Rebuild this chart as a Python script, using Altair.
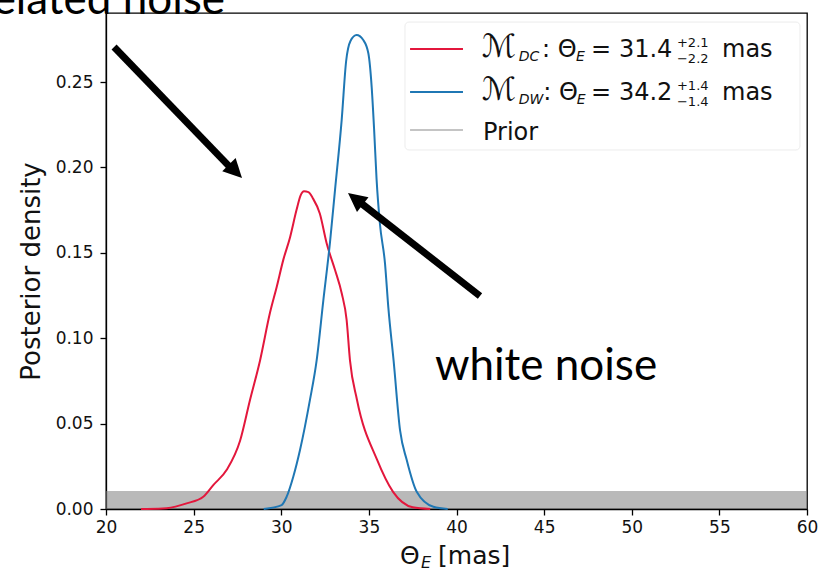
import altair as alt
import pandas as pd

# ---- data ----
dc_x = [22.0, 23.0, 23.46, 24.6, 25.55, 26.12, 26.89, 27.65, 28.22, 28.79, 29.36, 29.74,
        30.12, 30.5, 30.87, 31.1, 31.3, 31.55, 31.8, 32.2, 32.59, 33.07, 33.45, 33.73,
        33.92, 34.32, 35.46, 36.38, 37.5, 38.5]
dc_y = [0.0, 0.0001, 0.0004, 0.0033, 0.0072, 0.014, 0.023, 0.040, 0.064, 0.087, 0.115, 0.130,
        0.146, 0.159, 0.175, 0.1835, 0.186, 0.1855, 0.182, 0.173, 0.1556, 0.1399, 0.1263, 0.1107,
        0.0872, 0.064, 0.029, 0.010, 0.001, 0.0]

dw_x = [29.0, 30.02, 30.31, 30.69, 31.07, 31.64, 32.02, 32.4, 32.78, 33.07, 33.45, 33.7,
        33.95, 34.3, 34.68, 34.97, 35.16, 35.3, 35.44, 35.63, 35.92, 36.11, 36.41, 36.78,
        37.16, 37.73, 38.68, 39.5]
dw_y = [0.0, 0.0023, 0.0072, 0.019, 0.0345, 0.064, 0.087, 0.122, 0.156, 0.187, 0.228, 0.262,
        0.274, 0.2775, 0.2746, 0.2668, 0.247, 0.222, 0.193, 0.167, 0.1438, 0.118, 0.087, 0.046,
        0.0287, 0.0101, 0.0013, 0.0]

prior_x = [20.0, 60.0]
prior_top = [0.0105, 0.0105]

x_ticks = [20, 25, 30, 35, 40, 45, 50, 55, 60]
y_ticks = [0.0, 0.05, 0.10, 0.15, 0.20, 0.25]

RED = "#e3173c"
BLUE = "#1f77b4"
GREY = "#808080"

XS = alt.Scale(domain=[20, 60], nice=False, zero=False)
YS = alt.Scale(domain=[0, 0.2904], nice=False, zero=False)

curves = pd.concat([
    pd.DataFrame({"x": dc_x, "y": dc_y, "series": "DC", "col": RED}),
    pd.DataFrame({"x": dw_x, "y": dw_y, "series": "DW", "col": BLUE}),
])
prior = pd.DataFrame({"x": prior_x, "y": prior_top})

band = alt.Chart(prior).mark_area(color=GREY, opacity=0.55).encode(
    x=alt.X("x:Q", scale=XS, axis=alt.Axis(values=x_ticks, title=None, format="d")),
    y=alt.Y("y:Q", scale=YS, axis=alt.Axis(values=y_ticks, format=".2f", labelPadding=7,
                                          title="Posterior density", titleY=258)),
)

lines = alt.Chart(curves).mark_line(interpolate="monotone", strokeWidth=2).encode(
    x=alt.X("x:Q", scale=XS),
    y=alt.Y("y:Q", scale=YS),
    detail="series:N",
    stroke=alt.Stroke("col:N", scale=None),
)

# ---- arrows ----
arrows = pd.DataFrame({
    "x": [20.46, 41.34], "y": [0.2705, 0.1247],
    "x2": [27.28, 34.35], "y2": [0.198, 0.1807],
    "tx": [27.76, 33.81], "ty": [0.1938, 0.185],
    "angle": [135.7, 308.0],
})
shafts = alt.Chart(arrows).mark_rule(color="black", strokeWidth=7, strokeCap="butt").encode(
    x=alt.X("x:Q", scale=XS), y=alt.Y("y:Q", scale=YS), x2="x2:Q", y2="y2:Q")
heads = alt.Chart(arrows).mark_point(
    shape="M0,0 L0.5,1 L-0.5,1 Z", filled=True, color="black", opacity=1, size=1400,
    strokeWidth=0,
).encode(x=alt.X("tx:Q", scale=XS), y=alt.Y("ty:Q", scale=YS),
         angle=alt.Angle("angle:Q", scale=None))

# ---- annotation text ----
notes = pd.DataFrame({
    "x": [38.77, 26.79], "y": [0.0755, 0.2898],
    "text": ["white noise", "correlated noise"],
})
note_left = alt.Chart(notes.iloc[[0]]).mark_text(
    font="Lato", fontSize=44, align="left", baseline="alphabetic", color="black"
).encode(x=alt.X("x:Q", scale=XS), y=alt.Y("y:Q", scale=YS), text="text:N")
note_right = alt.Chart(notes.iloc[[1]]).mark_text(
    font="Lato", fontSize=44, align="right", baseline="alphabetic", color="black"
).encode(x=alt.X("x:Q", scale=XS), y=alt.Y("y:Q", scale=YS), text="text:N")

# ---- legend (manual, to allow sub/superscripts) ----
leg_box = pd.DataFrame({"x": [37.06], "x2": [59.6], "y": [0.2851], "y2": [0.2102]})
box = alt.Chart(leg_box).mark_rect(fill="white", fillOpacity=0.8, stroke="#ececec",
                                   strokeWidth=1, cornerRadius=4).encode(
    x=alt.X("x:Q", scale=XS), x2="x2:Q", y=alt.Y("y:Q", scale=YS), y2="y2:Q")

leg_lines = pd.DataFrame({
    "x": [37.35, 37.35, 37.35], "x2": [40.37, 40.37, 40.37],
    "y": [0.2693, 0.2441, 0.2219], "col": [RED, BLUE, "#c4c4c4"],
})
leg_rules = alt.Chart(leg_lines).mark_rule(strokeWidth=2).encode(
    x=alt.X("x:Q", scale=XS), x2="x2:Q", y=alt.Y("y:Q", scale=YS),
    stroke=alt.Stroke("col:N", scale=None),
)

b1, b2, b3 = 0.2646, 0.2395, 0.2160
sub_off = -0.0022
cal_txt = pd.DataFrame({"x": [41.45, 41.45], "y": [b1, b2], "text": ["ℳ", "ℳ"]})
main_txt = pd.DataFrame({
    "x": [44.88, 47.67, 49.27, 55.15,
          44.95, 47.67, 49.27, 55.15,
          41.51],
    "y": [b1] * 4 + [b2] * 4 + [b3],
    "text": [": Θ", "=", "31.4", "mas",
             ": Θ", "=", "34.2", "mas",
             "Prior"],
})
ital_txt = pd.DataFrame({
    "x": [43.55, 46.82, 43.55, 46.86],
    "y": [b1 + sub_off, b1 + sub_off, b2 + sub_off, b2 + sub_off],
    "text": ["DC", "E", "DW", "E"],
})
script_txt = pd.DataFrame({
    "x": [52.58, 52.58, 52.58, 52.58],
    "y": [b1 + 0.0059, b1 - 0.0035, b2 + 0.0059, b2 - 0.0035],
    "text": ["+2.1", "−2.2", "+1.4", "−1.4"],
})

def txt(df, size, style="normal"):
    return alt.Chart(df).mark_text(
        font="DejaVu Sans", fontSize=size, fontStyle=style, align="left",
        baseline="alphabetic", color="#111111"
    ).encode(x=alt.X("x:Q", scale=XS), y=alt.Y("y:Q", scale=YS), text="text:N")

leg_cal = txt(cal_txt, 32)
leg_main = txt(main_txt, 24)
leg_ital = txt(ital_txt, 14, "italic")
leg_scr = txt(script_txt, 13)

# ---- x axis title with subscript ----
xt_main = pd.DataFrame({"x": [36.78, 38.95], "y": [-0.0322, -0.0322], "text": ["Θ", "[mas]"]})
xt_sub = pd.DataFrame({"x": [37.97], "y": [-0.0346], "text": ["E"]})
xt1 = alt.Chart(xt_main).mark_text(font="DejaVu Sans", fontSize=25, align="left",
                                   baseline="alphabetic", color="#111111").encode(
    x=alt.X("x:Q", scale=XS), y=alt.Y("y:Q", scale=YS), text="text:N")
xt2 = alt.Chart(xt_sub).mark_text(font="DejaVu Sans", fontSize=16, fontStyle="italic",
                                  align="left", baseline="alphabetic", color="#111111").encode(
    x=alt.X("x:Q", scale=XS), y=alt.Y("y:Q", scale=YS), text="text:N")

chart = alt.layer(
    band, lines, shafts, heads, note_left, note_right,
    box, leg_rules, leg_cal, leg_main, leg_ital, leg_scr, xt1, xt2,
).properties(
    width=701, height=496,
    autosize=alt.AutoSizeParams(type="none"),
    padding={"left": 106, "top": 13, "right": 11, "bottom": 62},
    background="white",
).configure_view(
    stroke="black", strokeWidth=1.3,
).configure_axis(
    labelFont="DejaVu Sans", labelFontSize=17, labelColor="#111111",
    titleFont="DejaVu Sans", titleFontSize=26, titleFontWeight="normal", titleColor="#111111",
    domainColor="black", domainWidth=1.3, tickColor="black", tickWidth=1.3, tickSize=6,
    grid=False, labelPadding=4, titlePadding=11, labelFlush=False,
)

chart.save("out.html", embed_options={"renderer": "svg", "actions": False})
